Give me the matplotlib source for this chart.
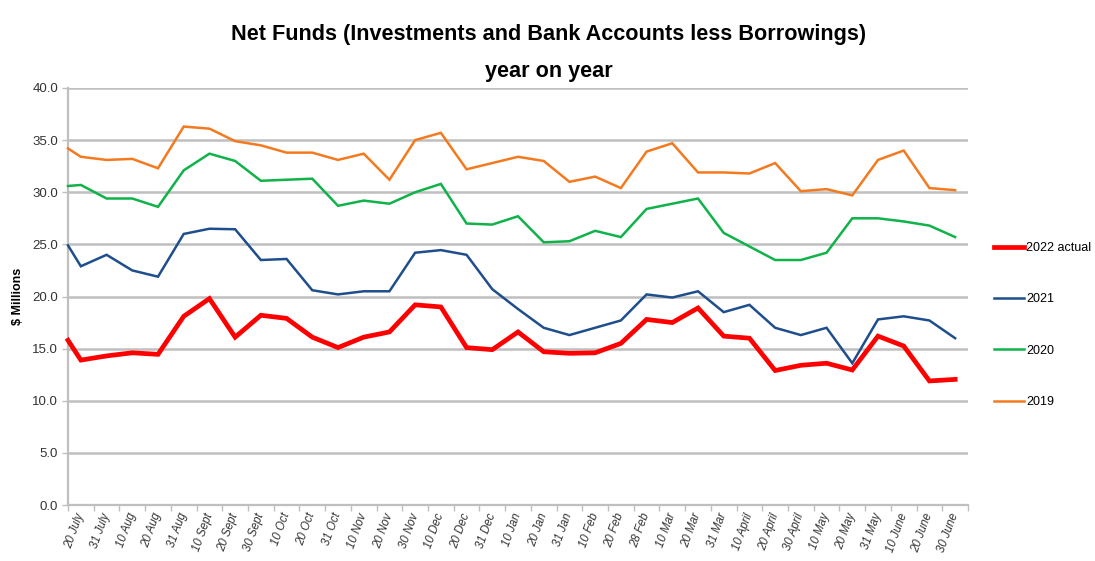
import numpy as np
import matplotlib.pyplot as plt

# x categories (ten-day reporting points)
labels = ['20 July', '31 July', '10 Aug', '20 Aug', '31 Aug', '10 Sept', '20 Sept', '30 Sept',
          '10 Oct', '20 Oct', '31 Oct', '10 Nov', '20 Nov', '30 Nov', '10 Dec', '20 Dec',
          '31 Dec', '10 Jan', '20 Jan', '31 Jan', '10 Feb', '20 Feb', '28 Feb', '10 Mar',
          '20 Mar', '31 Mar', '10 April', '20 April', '30 April', '10 May', '20 May',
          '31 May', '10 June', '20 June', '30 June']

# first value of each series is the lead-in point sitting on the left axis edge
net_2022 = [15.8, 13.9, 14.3, 14.6, 14.45, 18.1, 19.8, 16.1, 18.2, 17.9, 16.1, 15.1, 16.1,
            16.6, 19.2, 19.0, 15.1, 14.9, 16.6, 14.7, 14.55, 14.6, 15.5, 17.8, 17.5, 18.9,
            16.2, 16.0, 12.9, 13.4, 13.6, 12.95, 16.2, 15.25, 11.9, 12.05]
net_2021 = [24.9, 22.9, 24.0, 22.5, 21.9, 26.0, 26.5, 26.45, 23.5, 23.6, 20.6, 20.2, 20.5,
            20.5, 24.2, 24.45, 24.0, 20.7, 18.8, 17.0, 16.3, 17.0, 17.7, 20.2, 19.9, 20.5,
            18.5, 19.2, 17.0, 16.3, 17.0, 13.6, 17.8, 18.1, 17.7, 16.0]
net_2020 = [30.6, 30.7, 29.4, 29.4, 28.6, 32.1, 33.7, 33.0, 31.1, 31.2, 31.3, 28.7, 29.2,
            28.9, 30.0, 30.8, 27.0, 26.9, 27.7, 25.2, 25.3, 26.3, 25.7, 28.4, 28.9, 29.4,
            26.1, 24.8, 23.5, 23.5, 24.2, 27.5, 27.5, 27.2, 26.8, 25.7]
net_2019 = [34.2, 33.4, 33.1, 33.2, 32.3, 36.3, 36.1, 34.9, 34.5, 33.8, 33.8, 33.1, 33.7,
            31.2, 35.0, 35.7, 32.2, 32.8, 33.4, 33.0, 31.0, 31.5, 30.4, 33.9, 34.7, 31.9,
            31.9, 31.8, 32.8, 30.1, 30.3, 29.7, 33.1, 34.0, 30.4, 30.2]

series = [('2022 actual', net_2022, '#ff0000', 3.4),
          ('2021', net_2021, '#1f4e8c', 1.8),
          ('2020', net_2020, '#10b24a', 1.8),
          ('2019', net_2019, '#f47a1f', 1.8)]

plt.rcParams['font.family'] = ['Liberation Sans', 'DejaVu Sans']

fig = plt.figure(figsize=(10.95, 5.61), dpi=100)
ax = fig.add_axes([68 / 1095, 1 - 505 / 561, 900 / 1095, 417 / 561])

n = len(labels)
x = np.r_[-0.5, np.arange(n)]

# draw 2019 first so 2022 ends up on top
for name, vals, color, lw in series[::-1]:
    ax.plot(x, vals, color=color, lw=lw, label=name, solid_joinstyle='miter',
            clip_on=False, zorder=3)

ax.set_xlim(-0.5, n - 0.5)
ax.set_ylim(0, 40)
ax.set_yticks(np.arange(0, 40.1, 5))
ax.set_yticklabels([f'{v:.1f}' for v in np.arange(0, 40.1, 5)], fontsize=9.5, color='#333333')
ax.yaxis.grid(True, color='#bfbfbf', lw=1.8)
ax.set_axisbelow(True)

ax.set_xticks(np.arange(n))
ax.set_xticklabels(labels, rotation=70, ha='right', va='center', rotation_mode='anchor',
                   fontsize=8.3, style='italic', color='#333333')
ax.set_xticks(np.arange(n + 1) - 0.5, minor=True)
ax.tick_params(axis='x', which='major', length=0, pad=6)
ax.tick_params(axis='x', which='minor', length=4, color='#bfbfbf', width=1)
ax.tick_params(axis='y', length=4, color='#bfbfbf', width=1, pad=3)

for s in ['top', 'right']:
    ax.spines[s].set_visible(False)
for s in ['left', 'bottom']:
    ax.spines[s].set_color('#bfbfbf')
    ax.spines[s].set_linewidth(1.6)

ax.set_ylabel('$ Millions', fontsize=9, fontweight='bold', labelpad=6)

fig.text(549 / 1095, 1 - 53 / 561,
         'Net Funds (Investments and Bank Accounts less Borrowings)\nyear on year',
         ha='center', va='center', fontsize=15.6, fontweight='bold', linespacing=2.05)

handles, names = ax.get_legend_handles_labels()
fig.legend(handles[::-1], names[::-1], loc='center left', bbox_to_anchor=(994 / 1095, 1 - 325 / 561),
           frameon=False, fontsize=9, handlelength=2.4, handletextpad=0.2, labelspacing=3.15,
           borderaxespad=0, borderpad=0)

fig.savefig('out.png', dpi=100)
